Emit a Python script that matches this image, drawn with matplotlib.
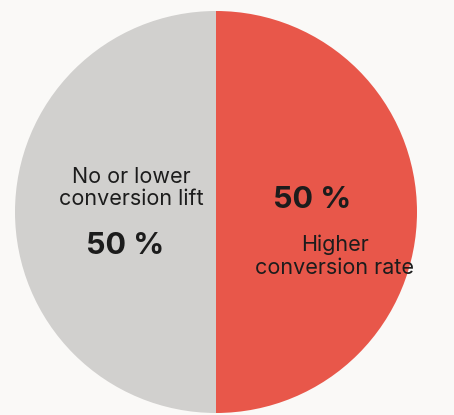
import matplotlib
matplotlib.use("Agg")
import matplotlib.pyplot as plt

labels = ["Higher\nconversion rate", "No or lower\nconversion lift"]
shares = [50, 50]
colors = ["#e8574a", "#d1d0ce"]

bg = "#faf9f7"
fig = plt.figure(figsize=(4.54, 4.15), dpi=100, facecolor=bg)
ax = fig.add_axes([15 / 454, 2 / 415, 402 / 454, 402 / 415])
ax.set_facecolor(bg)

ax.pie(shares, colors=colors, startangle=90, counterclock=False,
       wedgeprops={"linewidth": 0})
ax.set_xlim(-1, 1)
ax.set_ylim(-1, 1)
ax.set_aspect("equal")
ax.axis("off")

font = ["Inter", "DejaVu Sans"]
# right slice
ax.text(0.48, 0.06, f"{shares[0]} %", ha="center", va="center",
        fontsize=22, fontweight="bold", color="#1c1c1c", family=font)
ax.text(0.59, -0.22, labels[0], ha="center", va="center",
        fontsize=15.5, color="#1c1c1c", family=font, linespacing=1.15)
# left slice
ax.text(-0.42, 0.12, labels[1], ha="center", va="center",
        fontsize=15.5, color="#1c1c1c", family=font, linespacing=1.15)
ax.text(-0.45, -0.17, f"{shares[1]} %", ha="center", va="center",
        fontsize=22, fontweight="bold", color="#1c1c1c", family=font)

fig.savefig("out.png", dpi=100, facecolor=bg)
